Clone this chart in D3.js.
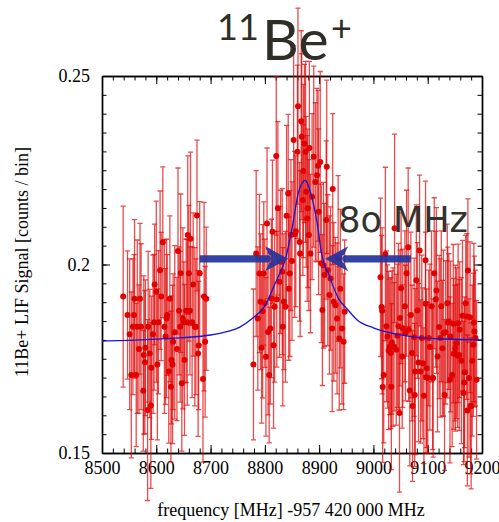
<!DOCTYPE html>
<html lang="en">
<head>
<meta charset="UTF-8">
<title>11Be+ LIF signal</title>
<script src="https://d3js.org/d3.v7.min.js"></script>
<style>
  body { margin:0; background:#fff; }
  text { font-family: 'Liberation Serif', 'Times New Roman', serif; }
  .axis text { font-size:18px; fill:#000; }
  .axis path, .axis line { stroke:#000; }
  .axis path { stroke-width:1.4px; }
</style>
</head>
<body>
<script>

// [frequency MHz, signal, error]
var leftGroup = [
  [8539,.1915,.024],[8547,.1866,.017],[8551,.1815,.020],[8554,.1707,.022],[8557,.1835,.018],[8559,.1866,.016],
  [8560,.1909,.021],[8563,.1707,.019],[8565,.1835,.023],[8568,.1776,.017],[8570,.1909,.020],[8572,.1835,.022],
  [8576,.1665,.016],[8577,.1760,.021],[8579,.1741,.019],[8580,.1779,.018],[8584,.1614,.024],[8585,.1835,.020],
  [8588,.1764,.017],[8590,.1626,.022],[8591,.1726,.019],[8594,.1815,.021],[8596,.1847,.018],[8597,.1947,.016],
  [8600,.1928,.024],[8602,.1735,.020],[8604,.1847,.019],[8607,.1985,.021],[8609,.1915,.017],[8612,.2059,.020],
  [8615,.1835,.023],[8617,.1809,.018],[8619,.1857,.021],[8620,.1866,.016],[8623,.1716,.019],[8625,.1909,.022],
  [8627,.1676,.020],[8628,.1747,.017],[8630,.1735,.021],[8631,.1795,.018],[8634,.1820,.023],[8638,.1776,.019],
  [8640,.2036,.022],[8642,.1877,.017],[8644,.1835,.020],[8645,.1977,.021],[8647,.1685,.018],[8649,.1857,.024],
  [8651,.1847,.016],[8652,.1747,.020],[8655,.1877,.019],[8657,.1847,.022],[8658,.2078,.021],[8660,.1977,.018],
  [8662,.1877,.017],[8663,.2068,.023],[8666,.1847,.020],[8668,.1947,.019],[8671,.1835,.021],[8673,.1835,.018],
  [8675,.2130,.020],[8677,.1764,.022],[8678,.1785,.017],[8680,.1977,.019],[8686,.1696,.022],[8688,.1915,.025],
  [8690,.1795,.020],[8692,.1909,.019]
];

var centerGroup = [
  [8779,.1735,.020],[8784,.2029,.022],[8787,.1857,.019],[8790,.1976,.021],[8792,.1901,.018],[8794,.1779,.020],
  [8796,.1876,.023],[8798,.1976,.019],[8800,.1897,.017],[8802,.1755,.021],[8804,.2109,.020],[8806,.1821,.022],
  [8808,.1707,.018],[8810,.1830,.020],[8812,.1910,.021],[8814,.2087,.019],[8816,.1786,.022],[8818,.1888,.020],
  [8821,.2288,.021],[8822,.1908,.018],[8824,.2149,.023],[8827,.1954,.020],[8829,.2007,.019],[8832,.1981,.022],
  [8833,.1835,.021],[8835,.1901,.018],[8838,.1888,.020],[8840,.2129,.024],[8843,.2188,.021],[8844,.1936,.019],
  [8846,.1976,.022],[8848,.2078,.020],[8850,.2009,.021],[8853,.2330,.025],[8855,.2080,.022],[8857,.2088,.020],
  [8860,.2299,.023],[8861,.2420,.026],[8864,.2060,.021],[8865,.2029,.022],[8867,.2380,.024],[8868,.2339,.022],
  [8870,.2171,.020],[8871,.2248,.023],[8873,.2321,.021],[8875,.2299,.024],[8876,.2193,.020],[8878,.2122,.022],
  [8879,.2149,.021],[8881,.2078,.020],[8882,.2309,.023],[8884,.2029,.021],[8887,.2180,.022],[8890,.2286,.024],
  [8893,.2219,.021],[8896,.2237,.023],[8898,.2262,.020],[8899,.2140,.022],[8902,.2272,.024],[8904,.2003,.021],
  [8906,.1879,.020],[8908,.1998,.022],[8910,.1972,.019],[8913,.2118,.021],[8914,.2259,.023],[8916,.1985,.020],
  [8919,.1919,.021],[8921,.1963,.019],[8924,.1830,.022],[8925,.2200,.020],[8927,.1901,.021],[8930,.1892,.018],
  [8933,.1857,.020],[8935,.2016,.022],[8937,.1804,.019],[8939,.1936,.021],[8942,.1830,.020],[8945,.1795,.018],
  [8947,.1875,.019]
];

var rightGroup = [
  [9013,.1966,.021],[9015,.1887,.019],[9016,.1877,.022],[9017,.1675,.020],[9019,.1707,.018],[9022,.2028,.023],
  [9024,.1836,.020],[9026,.1809,.019],[9028,.1772,.021],[9030,.1782,.018],[9032,.1765,.020],[9033,.1676,.022],
  [9034,.1793,.019],[9036,.1781,.021],[9038,.1782,.017],[9039,.2096,.025],[9042,.1774,.020],[9044,.1811,.019],
  [9046,.1836,.022],[9048,.1606,.021],[9049,.1858,.018],[9051,.1937,.020],[9053,.1756,.019],[9054,.1831,.021],
  [9058,.1889,.020],[9059,.1818,.018],[9061,.1977,.022],[9064,.2046,.021],[9065,.1827,.019],[9067,.1666,.020],
  [9069,.1866,.022],[9071,.1765,.018],[9072,.1625,.020],[9075,.1807,.021],[9076,.1654,.019],[9077,.1716,.022],
  [9079,.1958,.020],[9081,.1878,.018],[9083,.1740,.021],[9085,.2037,.020],[9087,.1716,.019],[9089,.1805,.022],
  [9091,.1738,.020],[9093,.1652,.018],[9096,.2011,.021],[9097,.1701,.020],
  [9096,.1896,.019],[9098,.1725,.021],[9100,.1699,.020],[9102,.1805,.018],[9104,.1781,.022],[9107,.1889,.020],
  [9109,.1699,.019],[9110,.1699,.021],[9112,.1977,.020],[9115,.1908,.018],[9116,.1931,.022],[9118,.1756,.020],
  [9121,.1834,.019],[9123,.1805,.021],[9125,.1889,.020],[9127,.1778,.018],[9129,.1818,.022],[9131,.1654,.020],
  [9133,.1820,.019],[9136,.1897,.021],[9137,.1846,.020],[9139,.1849,.018],[9141,.1694,.022],[9142,.1809,.020],
  [9145,.1707,.019],[9147,.1843,.021],[9148,.1763,.020],[9150,.1765,.018],[9151,.1778,.022],[9153,.1791,.020],
  [9155,.1758,.019],[9156,.1844,.021],[9158,.1760,.020],[9159,.1827,.018],[9162,.1745,.022],[9164,.1864,.020],
  [9166,.1659,.019],[9167,.1687,.021],[9168,.1714,.020],[9170,.1897,.018],[9172,.1862,.022],[9173,.1613,.020],
  [9174,.1984,.019],[9176,.1699,.021],[9178,.1860,.020],[9179,.1625,.018],[9180,.1625,.022],[9182,.1745,.020],
  [9184,.1787,.019],[9185,.1846,.021],[9186,.1822,.020],[9188,.1805,.018],[9190,.1694,.021]
];

// fitted line shape
var fitFreq   = [8500, 8550, 8600, 8650, 8700, 8730, 8754, 8776, 8800, 8819, 8830, 8838, 8850, 8862, 8868,
                 8874, 8880, 8884, 8896, 8905, 8918, 8936, 8951, 8970, 9000, 9040, 9073, 9120, 9160, 9200];
var fitSignal = [.1797, .1799, .1802, .1806, .1813, .1822, .1834, .1856, .1890, .1950, .1985, .2015, .2095, .2192, .2215,
                 .2223, .2210, .2192, .2113, .2025, .1972, .1909, .1883, .1853, .1832, .1816, .1808, .1803, .1801, .1800];

var xTicks = [8500, 8600, 8700, 8800, 8900, 9000, 9100, 9200];
var yTicks = [0.15, 0.2, 0.25];
var yTickLabels = ["0.15", "0.2", "0.25"];

var arrowStart = [8680, 9069];
var arrowTip   = [8843, 8911];
var arrowLevel = 0.2015;

var window_width = 499;
var window_height = 522;
var margin = {left:102, top:76, right:17, bottom:69};
var frame_width = window_width - margin.left - margin.right;
var frame_height = window_height - margin.top - margin.bottom;

var svg = d3.select("body").append("svg").attr("width", window_width).attr("height", window_height);
var g = svg.append("g").attr("transform", "translate(" + margin.left + "," + margin.top + ")");

var xScale = d3.scaleLinear().domain([8500, 9200]).range([0, frame_width]);
var yScale = d3.scaleLinear().domain([0.15, 0.25]).range([frame_height, 0]);

var xMinor = d3.range(8500, 9201, 20);
var yMinor = d3.range(0.15, 0.2501, 0.005);

// frame + ticks, all pointing inward
function addAxis(axisFn, scale, vals, size, fmt, tr, cls) {
  var a = axisFn(scale).tickValues(vals).tickSizeInner(-size).tickSizeOuter(0);
  if (fmt) a.tickFormat(fmt); else a.tickFormat("");
  var sel = g.append("g").attr("class", "axis " + cls).attr("transform", tr).call(a);
  return sel;
}
addAxis(d3.axisBottom, xScale, xMinor, 4.5, null, "translate(0," + frame_height + ")", "xm");
addAxis(d3.axisTop, xScale, xMinor, 4.5, null, "translate(0,0)", "xm");
addAxis(d3.axisLeft, yScale, yMinor, 4.5, null, "translate(0,0)", "ym");
addAxis(d3.axisRight, yScale, yMinor, 4.5, null, "translate(" + frame_width + ",0)", "ym");

addAxis(d3.axisBottom, xScale, xTicks, 8, d3.format("d"), "translate(0," + frame_height + ")", "xb").call(function(s){
  s.selectAll("text").attr("y", 8);
});
addAxis(d3.axisTop, xScale, xTicks, 8, null, "translate(0,0)", "xt");
addAxis(d3.axisLeft, yScale, yTicks, 8, function(d, i){ return yTickLabels[i]; }, "translate(0,0)", "yl").call(function(s){
  s.selectAll("text").attr("x", -12);
});
addAxis(d3.axisRight, yScale, yTicks, 8, null, "translate(" + frame_width + ",0)", "yr");

g.selectAll(".axis line").attr("stroke-width", 1);

var allPoints = leftGroup.concat(centerGroup, rightGroup);

// error bars
var bars = g.append("g").attr("class", "errbars")
  .attr("stroke", "#e00000").attr("stroke-opacity", 0.7).attr("stroke-width", 1.3);
bars.selectAll("path").data(allPoints).enter().append("path")
  .attr("fill", "none")
  .attr("d", function(d) {
    var cx = xScale(d[0]), y1 = yScale(d[1] + d[2]), y2 = yScale(d[1] - d[2]), w = 2.6;
    return "M" + cx + "," + y1 + "V" + y2 +
           "M" + (cx - w) + "," + y1 + "H" + (cx + w) +
           "M" + (cx - w) + "," + y2 + "H" + (cx + w);
  });

// points
g.append("g").selectAll("circle").data(allPoints).enter().append("circle")
  .attr("cx", function(d){ return xScale(d[0]); })
  .attr("cy", function(d){ return yScale(d[1]); })
  .attr("r", 3)
  .style("fill", "#e00000");

// fit curve
var line = d3.line()
  .x(function(d, i){ return xScale(fitFreq[i]); })
  .y(function(d){ return yScale(d); })
  .curve(d3.curveMonotoneX);
g.append("path").datum(fitSignal).attr("d", line)
  .attr("fill", "none").attr("stroke", "#1414d8").attr("stroke-width", 1.3);

// width arrows
var headLen = 23, headHalf = 12.5, notch = 6, shaftHalf = 3.6;
g.append("g").selectAll("path").data(arrowStart).enter().append("path")
  .attr("fill", "#23349c").attr("fill-opacity", 0.92)
  .attr("d", function(d, i) {
    var xs = xScale(d), xt = xScale(arrowTip[i]), yy = yScale(arrowLevel);
    var dir = xt > xs ? 1 : -1;
    var xn = xt - dir * (headLen - notch), xb = xt - dir * headLen;
    return "M" + xs + "," + (yy - shaftHalf) + "H" + xn + "V" + (yy + shaftHalf) + "H" + xs + "Z" +
           "M" + xt + "," + yy + "L" + xb + "," + (yy - headHalf) + "L" + xn + "," + yy +
           "L" + xb + "," + (yy + headHalf) + "Z";
  });

// width label
g.append("text")
  .attr("x", xScale(8935)).attr("y", yScale(0.2086))
  .style("font-family", "'DejaVu Sans', sans-serif").style("font-size", "35px")
  .style("fill", "#33332e")
  .text("8o MHz");

// title
var title = svg.append("text").style("font-family", "Lato, 'Open Sans', sans-serif")
  .style("fill", "#2e2e26");
title.append("tspan").attr("x", 217).attr("y", 40).style("font-size", "36px").text("11");
title.append("tspan").attr("x", 262).attr("y", 60).style("font-size", "57px").text("Be");
title.append("tspan").attr("x", 331).attr("y", 41).style("font-size", "36px").text("+");

// axis titles
svg.append("text")
  .attr("text-anchor", "middle")
  .attr("transform", "translate(28,262) rotate(-90)")
  .style("font-size", "18px")
  .text("11Be+ LIF Signal [counts / bin]");

svg.append("text")
  .attr("text-anchor", "middle")
  .attr("x", 291).attr("y", 516)
  .style("font-size", "18px")
  .text("frequency [MHz] -957 420 000 MHz");

</script>
</body>
</html>
